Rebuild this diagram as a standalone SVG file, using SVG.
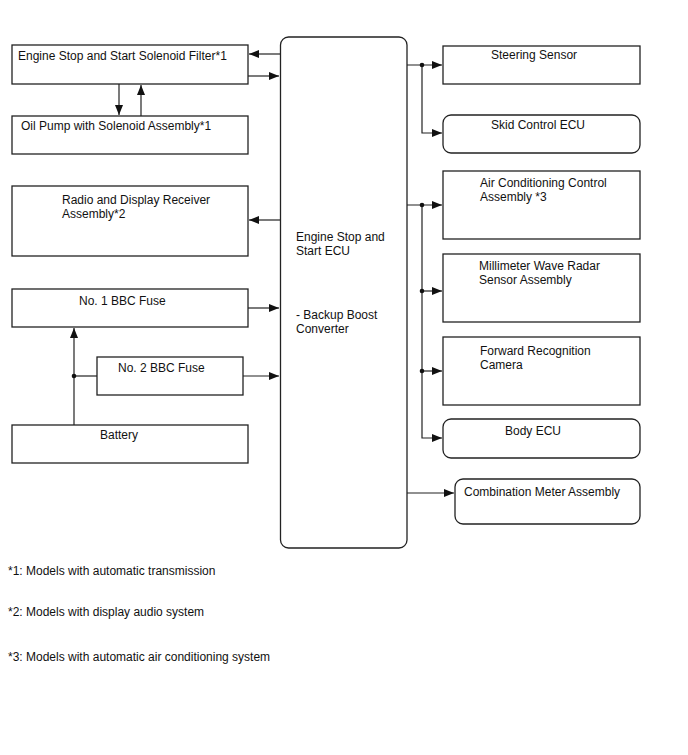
<svg xmlns="http://www.w3.org/2000/svg" width="688" height="755" viewBox="0 0 688 755">
<style>
.b{fill:#fff;stroke:#222;stroke-width:1.3}
.t{font-family:"Liberation Sans",Arial,sans-serif;font-size:12px;fill:#111}
.c{fill:none;stroke:#222;stroke-width:1.2}
</style>
<defs>
<marker id="a" viewBox="0 0 10 8" refX="10" refY="4" markerWidth="10" markerHeight="8" markerUnits="userSpaceOnUse" orient="auto"><path d="M0,0L10,4L0,8z" fill="#111"/></marker>
</defs>
<rect width="688" height="755" fill="#fff"/>
<g id="connectors">
<path class="c" d="M280,54H249" marker-end="url(#a)"/>
<path class="c" d="M248,76H279" marker-end="url(#a)"/>
<path class="c" d="M119,84V115" marker-end="url(#a)"/>
<path class="c" d="M141,116V85" marker-end="url(#a)"/>
<path class="c" d="M280,220H249" marker-end="url(#a)"/>
<path class="c" d="M248,308H279" marker-end="url(#a)"/>
<path class="c" d="M243,376H279" marker-end="url(#a)"/>
<path class="c" d="M74,425V328" marker-end="url(#a)"/>
<path class="c" d="M74,376H97"/>
<circle cx="74" cy="376" r="2.3" fill="#111"/>
<path class="c" d="M407,65H442" marker-end="url(#a)"/>
<path class="c" d="M422,65V133H442" marker-end="url(#a)"/>
<circle cx="422" cy="65" r="2.3" fill="#111"/>
<path class="c" d="M407,205H442" marker-end="url(#a)"/>
<path class="c" d="M422,205V438H442" marker-end="url(#a)"/>
<path class="c" d="M422,291H442" marker-end="url(#a)"/>
<path class="c" d="M422,371H442" marker-end="url(#a)"/>
<circle cx="422" cy="205" r="2.3" fill="#111"/>
<circle cx="422" cy="291" r="2.3" fill="#111"/>
<circle cx="422" cy="371" r="2.3" fill="#111"/>
<path class="c" d="M407,493H454" marker-end="url(#a)"/>
</g>
<g id="filter"><rect class="b" x="12" y="45" width="236" height="39"/><text class="t" x="18" y="60">Engine Stop and Start Solenoid Filter*1</text></g>
<g id="oilpump"><rect class="b" x="12" y="116" width="236" height="38"/><text class="t" x="21" y="130">Oil Pump with Solenoid Assembly*1</text></g>
<g id="radio"><rect class="b" x="12" y="186" width="236" height="70"/><text class="t" x="62" y="204">Radio and Display Receiver</text><text class="t" x="62" y="218">Assembly*2</text></g>
<g id="fuse1"><rect class="b" x="12" y="289" width="236" height="38"/><text class="t" x="79" y="305">No. 1 BBC Fuse</text></g>
<g id="fuse2"><rect class="b" x="97" y="357" width="146" height="38"/><text class="t" x="118" y="372">No. 2 BBC Fuse</text></g>
<g id="battery"><rect class="b" x="12" y="425" width="236" height="38"/><text class="t" x="100" y="439">Battery</text></g>
<g id="ecu"><rect class="b" x="280.5" y="37" width="126.5" height="511" rx="8"/><text class="t" x="296" y="241">Engine Stop and</text><text class="t" x="296" y="255">Start ECU</text><text class="t" x="296" y="319">- Backup Boost</text><text class="t" x="296" y="333">Converter</text></g>
<g id="steering"><rect class="b" x="443" y="46" width="197" height="38"/><text class="t" x="491" y="59">Steering Sensor</text></g>
<g id="skid"><rect class="b" x="443" y="115" width="197" height="38" rx="8"/><text class="t" x="491" y="129">Skid Control ECU</text></g>
<g id="aircon"><rect class="b" x="443" y="171" width="197" height="68"/><text class="t" x="480" y="187">Air Conditioning Control</text><text class="t" x="480" y="201">Assembly *3</text></g>
<g id="radar"><rect class="b" x="443" y="254" width="197" height="68"/><text class="t" x="479" y="270">Millimeter Wave Radar</text><text class="t" x="479" y="284">Sensor Assembly</text></g>
<g id="camera"><rect class="b" x="443" y="337" width="197" height="68"/><text class="t" x="480" y="355">Forward Recognition</text><text class="t" x="480" y="369">Camera</text></g>
<g id="body"><rect class="b" x="443" y="419" width="197" height="39" rx="8"/><text class="t" x="505" y="435">Body ECU</text></g>
<g id="meter"><rect class="b" x="455" y="479" width="185" height="45" rx="8"/><text class="t" x="464" y="496">Combination Meter Assembly</text></g>
<g id="notes">
<text class="t" x="8" y="575">*1: Models with automatic transmission</text>
<text class="t" x="8" y="616">*2: Models with display audio system</text>
<text class="t" x="8" y="661">*3: Models with automatic air conditioning system</text>
</g>
</svg>
